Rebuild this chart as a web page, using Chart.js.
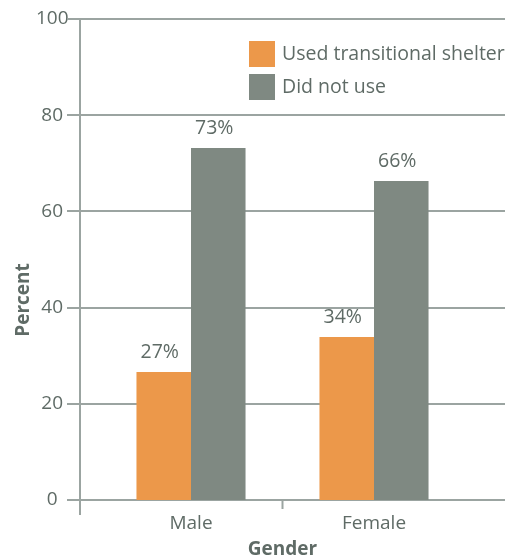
<!DOCTYPE html>
<html>
<head>
<meta charset="utf-8">
<script src="https://cdn.jsdelivr.net/npm/chart.js@4.4.0/dist/chart.umd.min.js"></script>
<style>
  html, body { margin: 0; padding: 0; background: #fff; }
  #wrap { width: 514px; height: 559px; }
</style>
</head>
<body>
<div id="wrap"><canvas id="chart" width="514" height="559"></canvas></div>
<script>
// data
const categories = ["Male", "Female"];
const usedShelter = [26.6, 33.9];
const didNotUse = [73.2, 66.3];
const usedLabels = ["27%", "34%"];
const notUsedLabels = ["73%", "66%"];
const seriesNames = ["Used transitional shelter", "Did not use"];
const yTicks = [0, 20, 40, 60, 80, 100];

const ORANGE = "#ec984a";
const GREY = "#7f8982";
const TEXT = "#5f6b66";
const LINE = "#9ba4a1";
const FONT = "'Open Sans', sans-serif";

const decorPlugin = {
  id: "decor",
  beforeDatasetsDraw(chart) {
    const { ctx, chartArea } = chart;
    const y = chart.scales.y;
    const x = chart.scales.x;
    const axisX = chartArea.left - 19.5;
    ctx.save();
    ctx.strokeStyle = LINE;
    ctx.lineWidth = 2;
    // horizontal grid lines
    yTicks.forEach((v) => {
      const py = Math.round(y.getPixelForValue(v));
      ctx.beginPath();
      ctx.moveTo(axisX - 13, py);
      ctx.lineTo(chartArea.right + 39.5, py);
      ctx.stroke();
    });
    // y axis line
    ctx.beginPath();
    ctx.moveTo(axisX, y.getPixelForValue(100));
    ctx.lineTo(axisX, chartArea.bottom + 15);
    ctx.stroke();
    // category divider tick
    const mid = (x.getPixelForValue(0) + x.getPixelForValue(1)) / 2;
    ctx.beginPath();
    ctx.moveTo(mid, chartArea.bottom);
    ctx.lineTo(mid, chartArea.bottom + 9);
    ctx.stroke();
    ctx.restore();
  },
  afterDatasetsDraw(chart) {
    const { ctx } = chart;
    ctx.save();
    ctx.fillStyle = TEXT;
    ctx.font = "19.5px " + FONT;
    ctx.textAlign = "center";
    ctx.textBaseline = "alphabetic";
    const labelSets = [usedLabels, notUsedLabels];
    chart.data.datasets.forEach((ds, i) => {
      const meta = chart.getDatasetMeta(i);
      meta.data.forEach((bar, j) => {
        ctx.fillText(labelSets[i][j], bar.x - 4, bar.y - 14);
      });
    });
    // legend
    const lx = 249, ly = 41;
    chart.data.datasets.forEach((ds, i) => {
      ctx.fillStyle = ds.backgroundColor;
      ctx.fillRect(lx, ly + i * 33, 26, 26);
      ctx.fillStyle = TEXT;
      ctx.textAlign = "left";
      ctx.textBaseline = "middle";
      ctx.fillText(ds.label, lx + 33, ly + i * 33 + 13);
    });
    // y title
    ctx.translate(24, 300);
    ctx.rotate(-Math.PI / 2);
    ctx.font = "bold 19px " + FONT;
    ctx.textAlign = "center";
    ctx.textBaseline = "middle";
    ctx.fillText("Percent", 0, 0);
    ctx.restore();
  }
};

new Chart(document.getElementById("chart"), {
  type: "bar",
  data: {
    labels: categories,
    datasets: [
      { label: seriesNames[0], data: usedShelter, backgroundColor: ORANGE },
      { label: seriesNames[1], data: didNotUse, backgroundColor: GREY }
    ]
  },
  options: {
    responsive: false,
    animation: false,
    devicePixelRatio: 1,
    layout: { padding: { top: 19, right: 48.5, bottom: 0, left: 0 } },
    plugins: { legend: { display: false }, tooltip: { enabled: false } },
    datasets: { bar: { categoryPercentage: 0.596, barPercentage: 1 } },
    scales: {
      x: {
        grid: { display: false, drawTicks: false },
        border: { display: false },
        ticks: { color: TEXT, font: { family: FONT, size: 19 }, padding: 12 },
        title: {
          display: true, text: "Gender", color: TEXT,
          font: { family: FONT, size: 19, weight: "bold", lineHeight: 1 },
          padding: 0
        },
        afterFit(scale) { scale.height = 59; }
      },
      y: {
        min: 0, max: 100,
        // tick marks hidden; tickLength only pushes the labels left
        grid: { display: false, drawTicks: true, tickLength: 31 },
        border: { display: false },
        ticks: {
          stepSize: 20, color: TEXT, padding: 0, crossAlign: "center",
          font: { family: FONT, size: 19 }
        },
        afterFit(scale) { scale.width = 99.5; }
      }
    }
  },
  plugins: [decorPlugin]
});
</script>
</body>
</html>
